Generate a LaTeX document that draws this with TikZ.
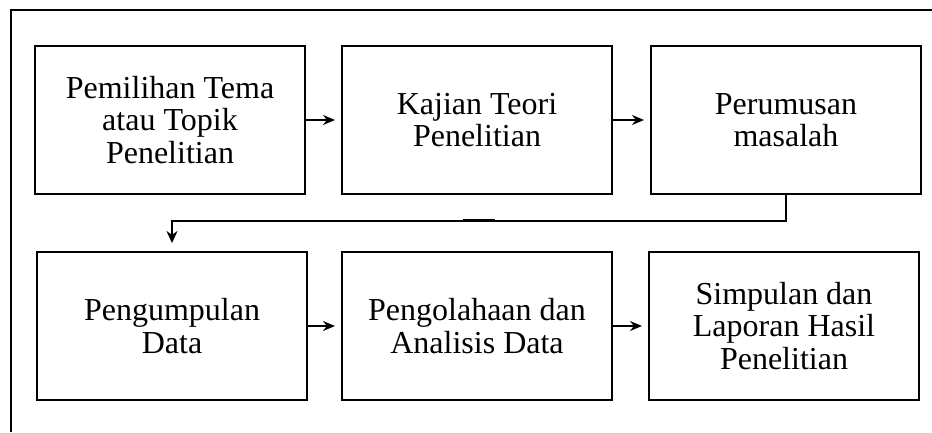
\documentclass[tikz,border=0pt]{standalone}
\usepackage{fontspec}
\setmainfont{Liberation Serif}
\usepackage{tikz}
\usetikzlibrary{arrows.meta,positioning}

\begin{document}
\begin{tikzpicture}[
  x=1pt, y=1pt,
  font=\fontsize{32}{32.5}\selectfont,
  stagebox/.style={draw, line width=2.8pt, align=center, outer sep=0pt,
               minimum width=270pt, minimum height=148pt, inner sep=4pt},
  arrow/.style={-{Stealth[length=12pt, width=10pt]}, line width=1.7pt, shorten >=7pt},
  conn/.style={-{Stealth[length=12pt, width=11pt]}, line width=2.8pt, shorten >=9pt}
]
\useasboundingbox (0,0) rectangle (932,-432);
% outer frame (cut off at right and bottom)
\draw[line width=2.2pt] (11,-432) -- (11,-10) -- (932,-10);

\node[stagebox, anchor=north west] (b1) at (35,-46) {Pemilihan Tema\\ atau Topik\\ Penelitian};
\node[stagebox, right=37pt of b1]  (b2) {Kajian Teori\\ Penelitian};
\node[stagebox, right=39pt of b2]  (b3) {Perumusan\\ masalah};
\node[stagebox, anchor=north west] (b4) at (37,-252) {Pengumpulan\\ Data};
\node[stagebox, right=35pt of b4]  (b5) {Pengolahaan dan\\ Analisis Data};
\node[stagebox, right=37pt of b5]  (b6) {Simpulan dan\\ Laporan Hasil\\ Penelitian};

\draw[arrow] (b1) -- (b2);
\draw[arrow] (b2) -- (b3);
\draw[arrow] (b4) -- (b5);
\draw[arrow] (b5) -- (b6);
\draw[conn] (b3.south) -- ++(0,-27) -| (b4.north);
% small stub above the return line
\draw[line width=2pt] (463,-219.5) -- (495,-219.5);
\end{tikzpicture}
\end{document}
